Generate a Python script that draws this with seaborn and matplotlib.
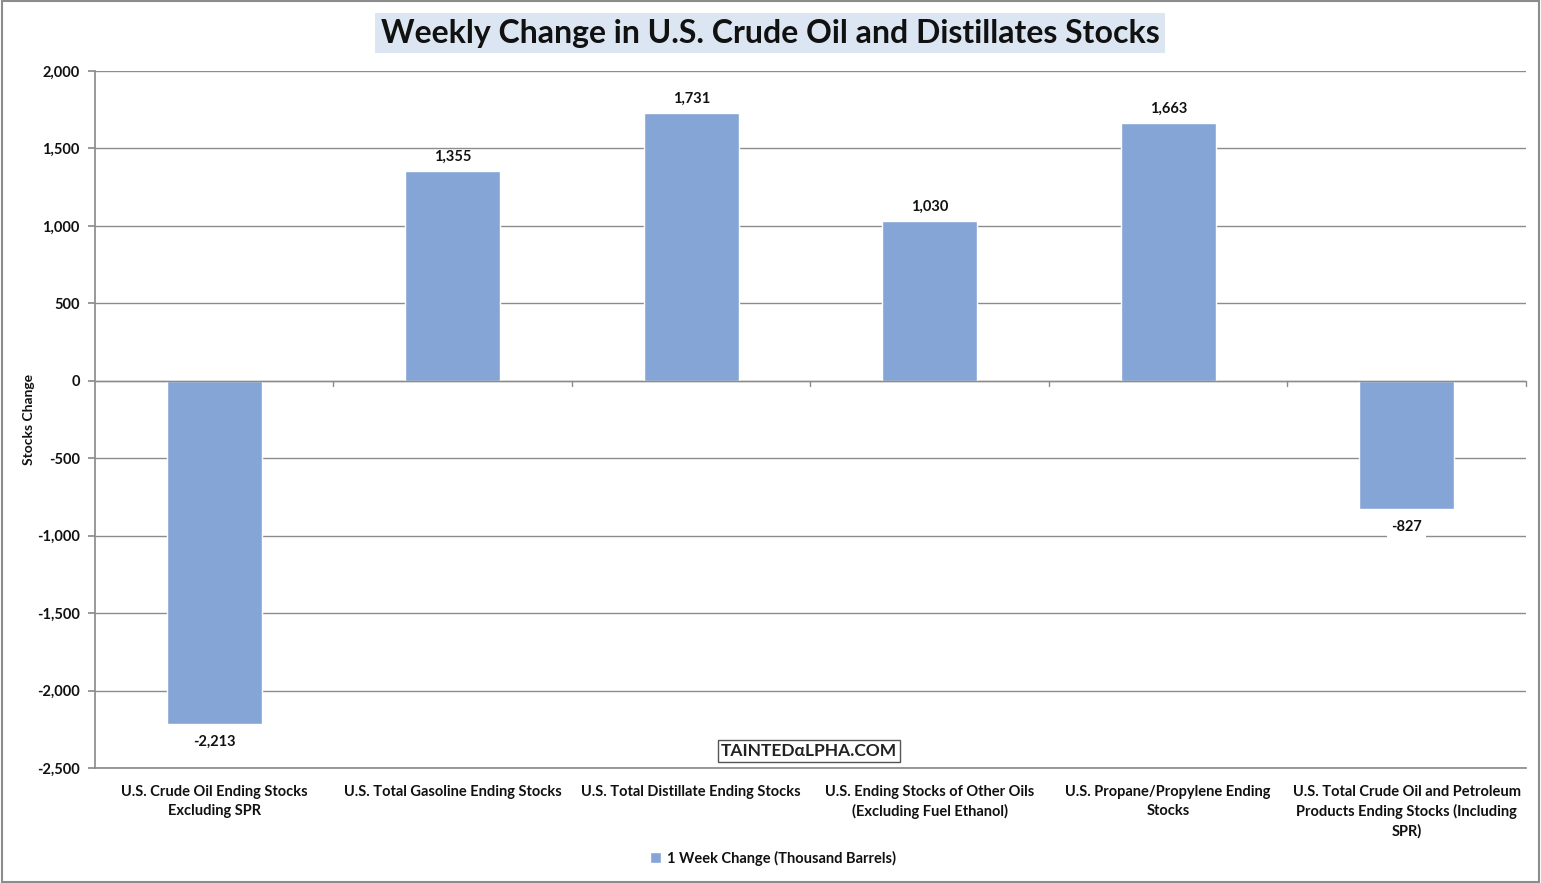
import matplotlib
matplotlib.use('Agg')
import matplotlib.pyplot as plt
import seaborn as sns
import pandas as pd
from matplotlib.ticker import FuncFormatter, MultipleLocator

# Data
categories = ['U.S. Crude Oil Ending Stocks\nExcluding SPR',
              'U.S. Total Gasoline Ending Stocks',
              'U.S. Total Distillate Ending Stocks',
              'U.S. Ending Stocks of Other Oils\n(Excluding Fuel Ethanol)',
              'U.S. Propane/Propylene Ending\nStocks',
              'U.S. Total Crude Oil and Petroleum\nProducts Ending Stocks (Including\nSPR)']
values = [-2213, 1355, 1731, 1030, 1663, -827]
seriesName = '1 Week Change (Thousand Barrels)'

df = pd.DataFrame({'category': categories, 'change': values, 'series': seriesName})

sns.set_theme(style='white')
plt.rcParams['font.family'] = ['Lato', 'DejaVu Sans']
plt.rcParams['font.weight'] = 'bold'
plt.rcParams['text.color'] = '#111111'

fig = plt.figure(figsize=(15.41, 8.83), dpi=100)
fig.patch.set_facecolor('white')
ax = fig.add_axes([95/1541, 1 - 768/883, (1526 - 95)/1541, (768 - 71)/883])

barColor = '#84A5D5'
sns.barplot(data=df, x='category', y='change', hue='series', palette=[barColor],
            width=0.4, ax=ax, saturation=1, legend=True)

ax.set_ylim(-2500, 2000)
ax.set_xlim(-0.5, len(categories) - 0.5)
ax.yaxis.set_major_locator(MultipleLocator(500))
ax.yaxis.set_major_formatter(FuncFormatter(lambda v, p: f'{int(v):,}'))
ax.grid(axis='y', color='#8C8C8C', linewidth=1)
ax.set_axisbelow(True)

for s in ['top', 'right']:
    ax.spines[s].set_visible(False)
ax.spines['left'].set_color('#8C8C8C')
ax.spines['bottom'].set_color('#8C8C8C')
ax.tick_params(axis='y', length=5, color='#8C8C8C', left=True, labelsize=10.5, pad=6,
               labelcolor='#111111')
ax.tick_params(axis='x', length=0, labelsize=10.5, pad=12, labelcolor='#111111')
for lbl in ax.get_xticklabels():
    lbl.set_fontweight('bold')
    lbl.set_linespacing(1.45)

# category boundary ticks on the zero line
for i in range(len(categories)):
    ax.plot([i + 0.5, i + 0.5], [0, -35], color='#8C8C8C', linewidth=1, clip_on=False)
ax.axhline(0, color='#8C8C8C', linewidth=1)

ax.set_xlabel('')
ax.set_ylabel('Stocks Change', fontsize=10, fontweight='bold', color='#111111')
ax.yaxis.set_label_coords((35 - 95) / 1431, 0.5)

# Data labels
for i, v in enumerate(values):
    if v >= 0:
        ax.text(i, v + 45, f'{v:,}', ha='center', va='bottom', fontsize=10.5, fontweight='bold')
    else:
        ax.text(i, v - 70, f'{v:,}', ha='center', va='top', fontsize=10.5, fontweight='bold',
                bbox=dict(facecolor='white', edgecolor='none', pad=3))

# Legend
handles, labels = ax.get_legend_handles_labels()
ax.get_legend().remove()
fig.legend(handles, labels, loc='center', bbox_to_anchor=(773/1541, 1 - 858/883), frameon=False,
           handlelength=0.7, handleheight=0.7, handletextpad=0.4,
           prop={'weight': 'bold', 'size': 10.5})

# Title
fig.text(770/1541, 1 - 33/883, 'Weekly Change in U.S. Crude Oil and Distillates Stocks',
         ha='center', va='center', fontsize=23, fontweight='bold',
         bbox=dict(facecolor='#DCE6F2', edgecolor='none', pad=4))

# Watermark
fig.text(809/1541, 1 - 751/883, 'TAINTEDαLPHA.COM', ha='center', va='center',
         fontsize=12.5, fontweight='bold', color='#222222',
         bbox=dict(facecolor='white', edgecolor='#555555', linewidth=1, pad=2))

# Outer border
fig.add_artist(plt.Rectangle((0.001, 0.001), 0.998, 0.998, transform=fig.transFigure,
                             fill=False, edgecolor='#8C8C8C', linewidth=1.5))

fig.savefig('out.png', dpi=100, facecolor='white')
